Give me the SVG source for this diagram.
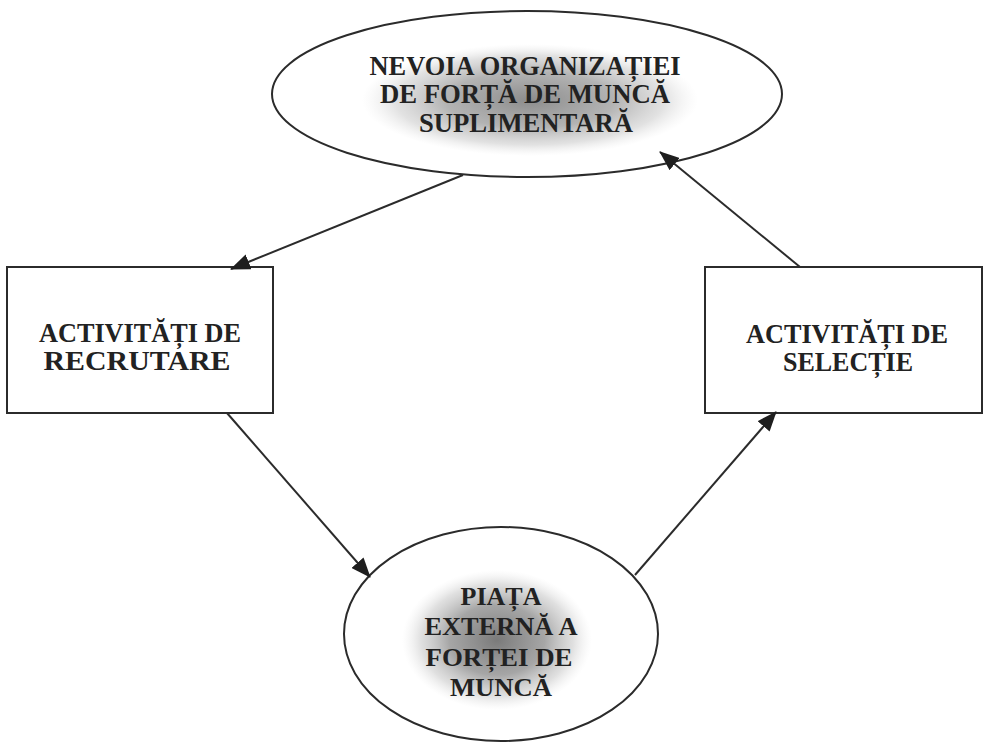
<svg xmlns="http://www.w3.org/2000/svg" width="985" height="742" viewBox="0 0 985 742">
  <style>
    .shape { fill: #ffffff; stroke: #2b2b2b; stroke-width: 2; }
    .lbl { font-family: "Liberation Serif", "Times New Roman", serif; font-weight: bold; fill: #222222; text-anchor: middle; }
    .conn { stroke: #2b2b2b; stroke-width: 2; fill: none; marker-end: url(#arrow); }
  </style>
  <defs>
    <marker id="arrow" markerUnits="userSpaceOnUse" markerWidth="20" markerHeight="16" viewBox="0 0 20 16" refX="19" refY="8" orient="auto">
      <path d="M0,0 L20,8 L0,16 Z" fill="#1e1e1e"/>
    </marker>
    <radialGradient id="hazeTop" cx="0.5" cy="0.5" r="0.5">
      <stop offset="0" stop-color="#8c8c8c"/>
      <stop offset="0.5" stop-color="#a6a6a6" stop-opacity="0.85"/>
      <stop offset="0.8" stop-color="#c4c4c4" stop-opacity="0.5"/>
      <stop offset="1" stop-color="#e0e0e0" stop-opacity="0"/>
    </radialGradient>
    <radialGradient id="hazeBottom" cx="0.5" cy="0.5" r="0.5">
      <stop offset="0" stop-color="#7a7a7a"/>
      <stop offset="0.5" stop-color="#9c9c9c" stop-opacity="0.9"/>
      <stop offset="0.8" stop-color="#c0c0c0" stop-opacity="0.5"/>
      <stop offset="1" stop-color="#e0e0e0" stop-opacity="0"/>
    </radialGradient>
  </defs>

  <rect width="985" height="742" fill="#ffffff"/>

  <!-- need for additional workforce -->
  <g id="nevoia">
    <ellipse class="shape" cx="527" cy="94" rx="255" ry="83"/>
    <ellipse cx="530" cy="100" rx="168" ry="56" fill="url(#hazeTop)"/>
    <text class="lbl" font-size="27" x="525" y="75" textLength="311" lengthAdjust="spacingAndGlyphs">NEVOIA ORGANIZAȚIEI</text>
    <text class="lbl" font-size="27" x="525" y="103" textLength="290" lengthAdjust="spacingAndGlyphs">DE FORȚĂ DE MUNCĂ</text>
    <text class="lbl" font-size="27" x="526" y="132" textLength="214" lengthAdjust="spacingAndGlyphs">SUPLIMENTARĂ</text>
  </g>

  <!-- recruitment -->
  <g id="recrutare">
    <rect class="shape" x="7" y="267" width="266" height="146"/>
    <text class="lbl" font-size="27" x="140" y="342" textLength="202" lengthAdjust="spacingAndGlyphs">ACTIVITĂȚI DE</text>
    <text class="lbl" font-size="27" x="137" y="370" textLength="187" lengthAdjust="spacingAndGlyphs">RECRUTARE</text>
  </g>

  <!-- selection -->
  <g id="selectie">
    <rect class="shape" x="705" y="267" width="277" height="146"/>
    <text class="lbl" font-size="27" x="847" y="343" textLength="202" lengthAdjust="spacingAndGlyphs">ACTIVITĂȚI DE</text>
    <text class="lbl" font-size="27" x="848" y="371" textLength="130" lengthAdjust="spacingAndGlyphs">SELECȚIE</text>
  </g>

  <!-- external labour market -->
  <g id="piata">
    <ellipse class="shape" cx="501" cy="634" rx="157" ry="107"/>
    <ellipse cx="497" cy="640" rx="95" ry="70" fill="url(#hazeBottom)"/>
    <text class="lbl" font-size="26" x="501" y="605" textLength="81" lengthAdjust="spacingAndGlyphs">PIAȚA</text>
    <text class="lbl" font-size="26" x="501" y="635" textLength="153" lengthAdjust="spacingAndGlyphs">EXTERNĂ A</text>
    <text class="lbl" font-size="26" x="499" y="666" textLength="147" lengthAdjust="spacingAndGlyphs">FORȚEI DE</text>
    <text class="lbl" font-size="26" x="501" y="696" textLength="102" lengthAdjust="spacingAndGlyphs">MUNCĂ</text>
  </g>

  <g id="connectors">
    <line class="conn" x1="463" y1="175" x2="231" y2="269"/>
    <line class="conn" x1="227" y1="413" x2="370" y2="577"/>
    <line class="conn" x1="635" y1="575" x2="776" y2="412"/>
    <line class="conn" x1="800" y1="267" x2="660" y2="152"/>
  </g>
</svg>
